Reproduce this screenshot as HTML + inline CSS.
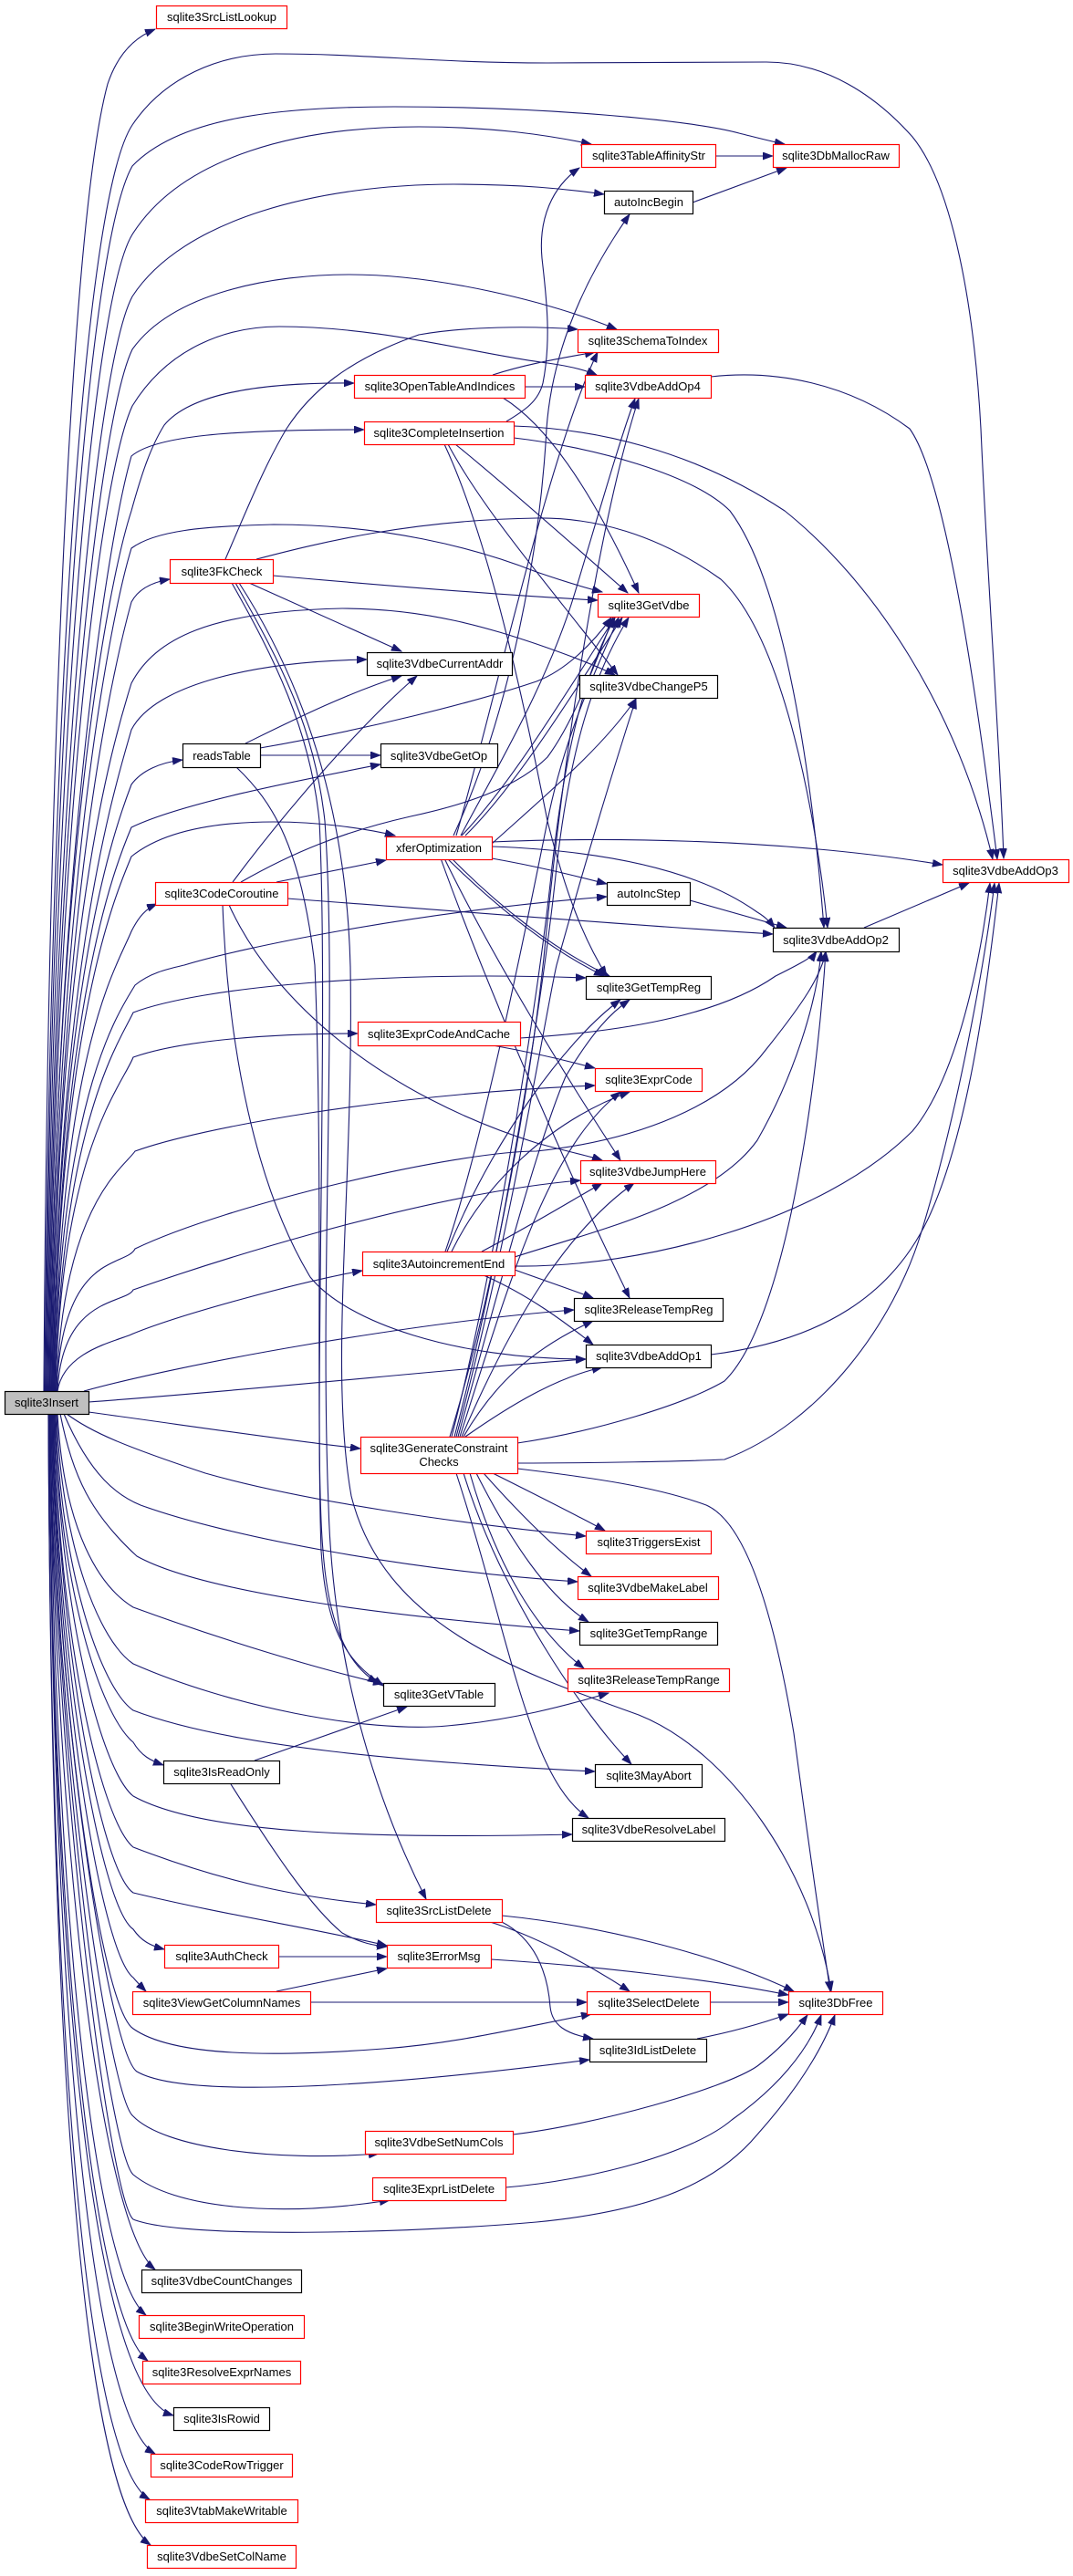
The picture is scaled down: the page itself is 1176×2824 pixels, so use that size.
<!DOCTYPE html>
<html><head><meta charset="utf-8"><style>
html,body{margin:0;padding:0;background:#fff}
svg{display:block}
text{font-family:"Liberation Sans",Arial,sans-serif;font-size:13px;fill:#000;text-anchor:middle}
.e{fill:none;stroke:#191970;stroke-width:1.1}
.r{fill:#fff;stroke:#ff0000;stroke-width:1.2}
.b{fill:#fff;stroke:#000;stroke-width:1.2}
.g{fill:#bfbfbf;stroke:#000;stroke-width:1.2}
</style></head><body>
<svg width="1176" height="2824" viewBox="0 0 1176 2824" xmlns="http://www.w3.org/2000/svg">
<defs><marker id="a" markerWidth="12" markerHeight="9" refX="11" refY="4" orient="auto" markerUnits="userSpaceOnUse"><path d="M0,0 L11,4 L0,8 z" fill="#191970" stroke="#191970" stroke-width="0.8"/></marker></defs>
<g class="e" marker-end="url(#a)">
<path d="M48,1525 C52,900 75,250 118,92 C128,62 145,42 170,32"/>
<path d="M49,1525 C55,800 90,220 145,137 C180,85 240,59 302,59 C400,59 480,69 600,69 L840,68 C905,68 960,105 1000,150 C1045,205 1068,340 1075,470 C1083,650 1095,800 1100,941"/>
<path d="M50,1525 C56,820 95,270 145,182 C195,130 300,117 432,117 C600,117 760,132 810,146 C830,151 845,155 860,158"/>
<path d="M51,1525 C57,850 100,330 145,257 C200,170 330,139 459,139 C540,139 600,148 648,158"/>
<path d="M52,1525 C58,880 105,400 145,325 C200,240 350,202 497,202 C570,202 620,207 662,213"/>
<path d="M53,1525 C59,900 108,460 145,383 C190,320 300,301 383,301 C480,301 600,330 676,361"/>
<path d="M54,1525 C60,920 110,520 145,445 C185,380 250,358 306,358 C420,358 520,388 600,398 C622,401 640,405 654,411"/>
<path d="M55,1525 C61,940 118,640 144,560 C155,520 165,490 180,466 C210,430 290,419 388,420"/>
<path d="M55,1525 C61,950 118,590 144,500 C170,478 250,471 399,471"/>
<path d="M56,1525 C62,980 120,680 144,601 C170,582 220,577 300,575 C420,575 520,600 588,627 C620,638 640,644 660,649"/>
<path d="M57,1525 C63,1000 122,740 144,660 C152,645 168,638 186,635"/>
<path d="M57,1525 C63,1020 122,820 144,749 C170,700 230,670 375,667 C470,667 540,690 588,706 C620,717 650,728 674,740"/>
<path d="M58,1525 C64,1060 124,870 144,800 C170,750 280,725 402,723"/>
<path d="M58,1525 C64,1080 125,910 144,860 C155,845 175,836 200,833"/>
<path d="M59,1525 C65,1100 126,950 144,907 C200,880 330,855 417,838"/>
<path d="M59,1525 C65,1120 127,980 144,939 C180,910 240,901 300,901 C350,901 400,908 433,916"/>
<path d="M60,1525 C66,1150 128,1060 144,1021 C152,1005 160,996 172,991"/>
<path d="M60,1525 C66,1200 130,1110 148,1080 C165,1066 185,1062 202,1058 C260,1040 450,1000 665,983"/>
<path d="M61,1525 C67,1230 132,1140 146,1110 C220,1082 420,1064 642,1072"/>
<path d="M61,1525 C67,1260 134,1190 146,1159 C200,1140 300,1133 392,1133"/>
<path d="M62,1525 C68,1320 136,1280 148,1262 C220,1236 420,1200 652,1190"/>
<path d="M62,1525 C68,1370 138,1390 148,1369 C250,1320 500,1262 588,1262 C700,1250 794,1212 840,1150 C880,1100 900,1070 905,1043"/>
<path d="M63,1525 C68,1420 138,1430 146,1414 C200,1395 450,1310 636,1294"/>
<path d="M63,1525 C70,1480 130,1470 146,1462 C200,1440 330,1405 397,1393"/>
<path d="M92,1525 C200,1495 450,1450 629,1436"/>
<path d="M97,1537 C300,1522 500,1500 642,1490"/>
<path d="M97,1548 C200,1562 320,1580 395,1588"/>
<path d="M73,1550 C100,1570 135,1585 225,1615 C330,1645 500,1670 642,1684"/>
<path d="M70,1550 C100,1620 130,1640 154,1650 C250,1685 450,1722 633,1734"/>
<path d="M66,1550 C80,1620 100,1660 150,1706 C220,1745 420,1772 635,1788"/>
<path d="M63,1550 C70,1680 110,1740 146,1762 C250,1800 350,1830 420,1846"/>
<path d="M62,1550 C68,1700 110,1800 146,1824 C250,1870 400,1900 490,1892 C560,1886 620,1870 667,1856"/>
<path d="M61,1550 C66,1720 110,1850 146,1875 C250,1915 450,1932 652,1942"/>
<path d="M60,1550 C65,1740 110,1880 146,1910 C155,1925 165,1930 179,1935"/>
<path d="M60,1550 C65,1760 110,1940 146,1969 C220,2010 400,2016 627,2011"/>
<path d="M59,1550 C64,1790 110,1995 146,2025 C250,2065 330,2080 412,2088"/>
<path d="M59,1550 C64,1800 110,2050 146,2075 C250,2100 350,2115 424,2133"/>
<path d="M58,1550 C63,1820 110,2090 146,2115 C155,2128 165,2133 180,2137"/>
<path d="M58,1550 C62,1840 110,2140 146,2168 C152,2175 155,2178 160,2183"/>
<path d="M57,1550 C62,1860 110,2200 146,2224 C190,2255 300,2255 420,2246 C500,2240 560,2225 648,2208"/>
<path d="M57,1550 C61,1880 120,2250 150,2271 C200,2300 400,2290 646,2258"/>
<path d="M56,1550 C60,1900 120,2300 146,2320 C180,2355 300,2370 415,2361"/>
<path d="M56,1550 C60,1920 120,2360 146,2384 C190,2420 300,2432 427,2412"/>
<path d="M55,1550 C59,1940 120,2410 146,2433 C200,2455 450,2448 588,2436 C700,2425 780,2400 830,2340 C870,2295 900,2250 915,2209"/>
<path d="M55,1550 C59,2000 110,2440 170,2488"/>
<path d="M55,1550 C58,2050 100,2490 160,2538"/>
<path d="M54,1550 C57,2100 100,2540 162,2588"/>
<path d="M54,1550 C57,2150 100,2620 190,2648"/>
<path d="M54,1550 C57,2200 100,2650 170,2690"/>
<path d="M53,1550 C56,2250 95,2700 164,2740"/>
<path d="M53,1550 C56,2300 95,2740 165,2790"/>
<path d="M784,171 L847,171"/>
<path d="M759,222 L862,184"/>
<path d="M540,411 C580,398 620,392 652,386"/>
<path d="M575,424 L641,424"/>
<path d="M551,436 C600,466 650,540 700,650"/>
<path d="M247,613 C270,560 290,510 314,470 C340,430 380,395 459,367 C510,358 580,357 633,361"/>
<path d="M299,631 C400,640 540,652 655,658"/>
<path d="M281,613 C350,595 450,570 588,568 C650,567 720,585 790,635 C860,700 895,900 907,1017"/>
<path d="M273,639 L440,714"/>
<path d="M254,639 C300,720 340,800 350,900 C360,1100 345,1500 352,1700 C358,1790 380,1820 420,1848"/>
<path d="M258,639 C310,730 345,800 356,900 C370,1100 350,1400 360,1650 C364,1800 400,1950 467,2082"/>
<path d="M262,639 C340,760 380,900 384,1060 C388,1300 360,1500 385,1640 C420,1780 560,1830 700,1880 C800,1920 890,2050 911,2183"/>
<path d="M285,820 C400,800 520,770 588,747 C620,735 650,705 670,677"/>
<path d="M269,815 C320,790 380,760 440,741"/>
<path d="M285,828 L417,828"/>
<path d="M259,841 C300,880 330,930 345,1058 C355,1300 345,1600 354,1700 C360,1780 380,1825 414,1845"/>
<path d="M255,967 C320,880 400,790 457,741"/>
<path d="M303,967 L423,943"/>
<path d="M264,967 C320,935 375,912 450,895 C520,880 570,860 600,830 C630,790 655,720 672,677"/>
<path d="M315,985 C450,995 700,1015 847,1024"/>
<path d="M251,992 C300,1100 420,1200 588,1253 C620,1262 645,1267 660,1272"/>
<path d="M244,992 C250,1150 280,1300 340,1400 C380,1450 500,1490 642,1490"/>
<path d="M506,916 C560,860 620,760 674,677"/>
<path d="M510,916 C565,862 625,765 682,677"/>
<path d="M493,1575 C540,1420 580,1200 596,1050 C620,800 660,560 700,437"/>
<path d="M505,916 C540,850 600,750 630,650 C660,550 680,480 696,437"/>
<path d="M500,916 C540,780 600,500 655,386"/>
<path d="M497,916 C560,780 592,600 599,470 C604,400 630,320 690,235"/>
<path d="M539,925 C600,870 660,820 697,766"/>
<path d="M539,923 C650,918 850,918 1033,948"/>
<path d="M539,941 C590,950 630,960 665,969"/>
<path d="M539,928 C650,932 760,950 830,1000 C840,1006 845,1012 849,1017"/>
<path d="M490,941 C540,990 600,1040 662,1070"/>
<path d="M495,941 C545,992 605,1040 668,1070"/>
<path d="M487,941 C540,1050 620,1180 680,1272"/>
<path d="M483,941 C540,1100 630,1300 690,1423"/>
<path d="M488,1372 C530,1250 580,1000 600,900 C620,800 660,720 678,677"/>
<path d="M490,1372 C540,1250 620,1140 680,1096"/>
<path d="M495,1372 C530,1300 600,1230 690,1197"/>
<path d="M528,1372 C570,1350 620,1320 660,1297"/>
<path d="M564,1378 C650,1350 780,1320 830,1250 C870,1180 895,1100 900,1043"/>
<path d="M564,1388 C700,1390 900,1340 1000,1240 C1050,1180 1075,1050 1085,968"/>
<path d="M564,1392 C600,1405 630,1415 650,1423"/>
<path d="M530,1398 C580,1420 620,1450 650,1474"/>
<path d="M540,1146 C590,1155 630,1165 652,1171"/>
<path d="M570,1138 C700,1130 794,1109 850,1070 C870,1060 890,1050 895,1043"/>
<path d="M495,1575 C540,1400 590,1100 605,950 C620,820 640,740 674,677"/>
<path d="M498,1575 C545,1400 595,1100 610,950 C625,820 650,740 689,677"/>
<path d="M500,1575 C560,1350 600,1100 610,1058 C640,950 670,850 697,766"/>
<path d="M502,1575 C550,1400 590,1250 620,1180 C650,1130 670,1110 690,1096"/>
<path d="M504,1575 C560,1400 600,1260 680,1197"/>
<path d="M506,1575 C560,1450 620,1350 695,1297"/>
<path d="M508,1575 C540,1520 580,1480 650,1448"/>
<path d="M510,1575 C560,1540 610,1510 660,1499"/>
<path d="M567,1582 C650,1570 750,1540 794,1514 C860,1450 895,1200 905,1043"/>
<path d="M567,1604 C650,1604 750,1602 794,1600 C900,1560 980,1450 1010,1350 C1050,1220 1080,1050 1090,968"/>
<path d="M567,1610 C650,1620 720,1630 774,1650 C820,1670 850,1780 870,1900 C890,2050 905,2150 910,2183"/>
<path d="M540,1615 C590,1640 630,1660 663,1678"/>
<path d="M530,1615 C570,1660 610,1700 648,1728"/>
<path d="M522,1615 C560,1690 600,1750 645,1778"/>
<path d="M515,1615 C545,1720 590,1790 640,1829"/>
<path d="M508,1615 C550,1750 640,1880 692,1934"/>
<path d="M500,1615 C560,1800 580,1950 645,1993"/>
<path d="M779,413 C850,405 930,420 997,470 C1040,530 1075,800 1093,942"/>
<path d="M563,467 C650,470 757,492 860,560 C960,640 1050,780 1088,942"/>
<path d="M563,480 C650,490 760,520 800,560 C860,640 890,850 903,1017"/>
<path d="M555,462 C575,450 590,440 595,420 C605,370 598,320 594,283 C590,240 605,205 635,184"/>
<path d="M499,487 C540,520 620,590 688,650"/>
<path d="M491,487 C530,560 600,640 677,740"/>
<path d="M487,487 C540,600 580,800 600,900 C620,980 640,1030 665,1070"/>
<path d="M947,1017 L1062,968"/>
<path d="M779,1485 C900,1470 980,1420 1020,1330 C1060,1240 1080,1100 1095,968"/>
<path d="M756,987 L862,1017"/>
<path d="M279,1930 L446,1871"/>
<path d="M253,1956 C300,2030 340,2090 375,2119 C395,2130 410,2133 424,2134"/>
<path d="M305,2145 L424,2145"/>
<path d="M303,2183 L424,2158"/>
<path d="M340,2195 L643,2195"/>
<path d="M550,2100 C650,2110 780,2140 870,2183"/>
<path d="M537,2107 C580,2120 640,2150 690,2183"/>
<path d="M550,2107 C585,2125 600,2160 603,2200 C605,2220 620,2230 650,2235"/>
<path d="M538,2148 C650,2155 780,2170 864,2187"/>
<path d="M778,2195 L864,2195"/>
<path d="M764,2235 C800,2228 830,2220 864,2208"/>
<path d="M562,2340 C650,2330 794,2290 830,2265 C850,2250 870,2230 885,2209"/>
<path d="M554,2398 C650,2390 760,2360 802,2324 C850,2290 885,2250 900,2209"/>
</g>
<g>
<rect class="g" x="5.5" y="1525.5" width="92" height="25"/><text x="51" y="1542">sqlite3Insert</text>
<rect class="r" x="171.5" y="6.5" width="143" height="25"/><text x="243" y="23">sqlite3SrcListLookup</text>
<rect class="r" x="637.5" y="158.5" width="147" height="25"/><text x="711" y="175">sqlite3TableAffinityStr</text>
<rect class="r" x="847.5" y="158.5" width="138" height="25"/><text x="916" y="175">sqlite3DbMallocRaw</text>
<rect class="b" x="662.5" y="209.5" width="97" height="25"/><text x="711" y="226">autoIncBegin</text>
<rect class="r" x="633.5" y="361.5" width="154" height="25"/><text x="710" y="378">sqlite3SchemaToIndex</text>
<rect class="r" x="388.5" y="411.5" width="187" height="25"/><text x="482" y="428">sqlite3OpenTableAndIndices</text>
<rect class="r" x="641.5" y="411.5" width="138" height="25"/><text x="710" y="428">sqlite3VdbeAddOp4</text>
<rect class="r" x="399.5" y="462.5" width="164" height="25"/><text x="481" y="479">sqlite3CompleteInsertion</text>
<rect class="r" x="186.5" y="613.5" width="113" height="26"/><text x="243" y="631">sqlite3FkCheck</text>
<rect class="r" x="655.5" y="651.5" width="111" height="25"/><text x="711" y="668">sqlite3GetVdbe</text>
<rect class="b" x="402.5" y="715.5" width="159" height="25"/><text x="482" y="732">sqlite3VdbeCurrentAddr</text>
<rect class="b" x="635.5" y="740.5" width="151" height="25"/><text x="711" y="757">sqlite3VdbeChangeP5</text>
<rect class="b" x="200.5" y="815.5" width="85" height="26"/><text x="243" y="833">readsTable</text>
<rect class="b" x="417.5" y="815.5" width="128" height="26"/><text x="481" y="833">sqlite3VdbeGetOp</text>
<rect class="r" x="423.5" y="917.5" width="116" height="25"/><text x="481" y="934">xferOptimization</text>
<rect class="r" x="1033.5" y="942.5" width="138" height="25"/><text x="1102" y="959">sqlite3VdbeAddOp3</text>
<rect class="r" x="170.5" y="967.5" width="145" height="25"/><text x="243" y="984">sqlite3CodeCoroutine</text>
<rect class="b" x="665.5" y="967.5" width="91" height="25"/><text x="711" y="984">autoIncStep</text>
<rect class="b" x="847.5" y="1017.5" width="138" height="26"/><text x="916" y="1035">sqlite3VdbeAddOp2</text>
<rect class="b" x="642.5" y="1070.5" width="137" height="25"/><text x="711" y="1087">sqlite3GetTempReg</text>
<rect class="r" x="392.5" y="1120.5" width="178" height="26"/><text x="481" y="1138">sqlite3ExprCodeAndCache</text>
<rect class="r" x="652.5" y="1171.5" width="117" height="25"/><text x="711" y="1188">sqlite3ExprCode</text>
<rect class="r" x="636.5" y="1272.5" width="148" height="25"/><text x="710" y="1289">sqlite3VdbeJumpHere</text>
<rect class="r" x="397.5" y="1372.5" width="167" height="26"/><text x="481" y="1390">sqlite3AutoincrementEnd</text>
<rect class="b" x="629.5" y="1423.5" width="163" height="25"/><text x="711" y="1440">sqlite3ReleaseTempReg</text>
<rect class="b" x="642.5" y="1474.5" width="137" height="25"/><text x="711" y="1491">sqlite3VdbeAddOp1</text>
<rect class="r" x="395.5" y="1575.5" width="172" height="40"/><text x="481" y="1592">sqlite3GenerateConstraint</text><text x="481" y="1607">Checks</text>
<rect class="r" x="642.5" y="1678.5" width="137" height="25"/><text x="711" y="1695">sqlite3TriggersExist</text>
<rect class="r" x="633.5" y="1728.5" width="154" height="25"/><text x="710" y="1745">sqlite3VdbeMakeLabel</text>
<rect class="b" x="635.5" y="1778.5" width="151" height="25"/><text x="711" y="1795">sqlite3GetTempRange</text>
<rect class="r" x="622.5" y="1829.5" width="177" height="25"/><text x="711" y="1846">sqlite3ReleaseTempRange</text>
<rect class="b" x="420.5" y="1845.5" width="122" height="25"/><text x="481" y="1862">sqlite3GetVTable</text>
<rect class="b" x="179.5" y="1930.5" width="127" height="25"/><text x="243" y="1947">sqlite3IsReadOnly</text>
<rect class="b" x="652.5" y="1934.5" width="117" height="25"/><text x="711" y="1951">sqlite3MayAbort</text>
<rect class="b" x="627.5" y="1993.5" width="167" height="25"/><text x="711" y="2010">sqlite3VdbeResolveLabel</text>
<rect class="r" x="412.5" y="2082.5" width="138" height="25"/><text x="481" y="2099">sqlite3SrcListDelete</text>
<rect class="r" x="180.5" y="2132.5" width="125" height="25"/><text x="243" y="2149">sqlite3AuthCheck</text>
<rect class="r" x="424.5" y="2132.5" width="114" height="25"/><text x="481" y="2149">sqlite3ErrorMsg</text>
<rect class="r" x="145.5" y="2183.5" width="195" height="25"/><text x="243" y="2200">sqlite3ViewGetColumnNames</text>
<rect class="r" x="643.5" y="2183.5" width="135" height="25"/><text x="711" y="2200">sqlite3SelectDelete</text>
<rect class="r" x="864.5" y="2183.5" width="103" height="25"/><text x="916" y="2200">sqlite3DbFree</text>
<rect class="b" x="646.5" y="2235.5" width="128" height="25"/><text x="710" y="2252">sqlite3IdListDelete</text>
<rect class="r" x="400.5" y="2336.5" width="162" height="25"/><text x="481" y="2353">sqlite3VdbeSetNumCols</text>
<rect class="r" x="408.5" y="2387.5" width="146" height="25"/><text x="481" y="2404">sqlite3ExprListDelete</text>
<rect class="b" x="155.5" y="2488.5" width="175" height="25"/><text x="243" y="2505">sqlite3VdbeCountChanges</text>
<rect class="r" x="152.5" y="2538.5" width="181" height="25"/><text x="243" y="2555">sqlite3BeginWriteOperation</text>
<rect class="r" x="156.5" y="2588.5" width="173" height="25"/><text x="243" y="2605">sqlite3ResolveExprNames</text>
<rect class="b" x="190.5" y="2639.5" width="105" height="25"/><text x="243" y="2656">sqlite3IsRowid</text>
<rect class="r" x="165.5" y="2690.5" width="155" height="25"/><text x="243" y="2707">sqlite3CodeRowTrigger</text>
<rect class="r" x="159.5" y="2740.5" width="167" height="25"/><text x="243" y="2757">sqlite3VtabMakeWritable</text>
<rect class="r" x="161.5" y="2790.5" width="163" height="25"/><text x="243" y="2807">sqlite3VdbeSetColName</text>
</g>
</svg>
</body></html>
